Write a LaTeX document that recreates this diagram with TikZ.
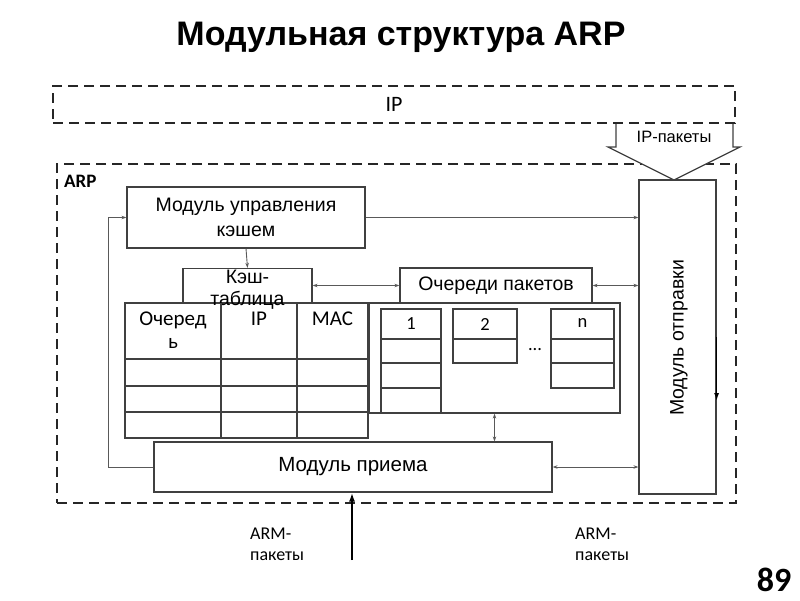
\documentclass[tikz,border=0pt]{standalone}
\usepackage{fontspec}
\setmainfont{Liberation Sans}
\newfontfamily\calfont{Carlito}
\usetikzlibrary{arrows.meta}

\begin{document}
\begin{tikzpicture}[x=1pt,y=-1pt,
  module/.style={draw=black!75,line width=1.2pt,fill=white,align=center,inner sep=0pt,font=\fontsize{19.5}{25}\selectfont},
  layer/.style={draw=black!85,line width=2.2pt,dash pattern=on 10pt off 6pt},
  cell/.style={draw=black!75,line width=1.1pt},
  celltext/.style={font=\calfont\fontsize{21}{23}\selectfont,align=center,inner sep=0pt},
  link/.style={draw=black!65,line width=0.9pt,-{Stealth[length=5pt,width=3.5pt]}},
  dlink/.style={link,{Stealth[length=5pt,width=3.5pt]}-{Stealth[length=5pt,width=3.5pt]}},
  inarrow/.style={draw=black,line width=1.8pt,-{Latex[length=9pt,width=6pt]}},
  armtext/.style={font=\calfont\fontsize{18}{21}\selectfont,align=left,anchor=north west,inner sep=0pt}
]
\useasboundingbox (0,0) rectangle (800,600);

\node[font=\bfseries\fontsize{34}{40}\selectfont,anchor=base] (title) at (401,45) {Модульная структура ARP};

% layers
\node[layer,minimum width=682pt,minimum height=37pt,font=\calfont\fontsize{22}{24}\selectfont] (ip) at (394,104.5) {IP};
\node[layer,minimum width=679pt,minimum height=339pt] (arp) at (396.5,333.5) {};
\node[anchor=west,inner sep=0pt,font=\calfont\bfseries\fontsize{19}{22}\selectfont] (arplbl) at (64,181) {ARP};

% IP packets block arrow
\draw[draw=black!75,line width=1.2pt,fill=white] (616,124) -- (616,147) -- (608,147) -- (674,180) -- (740,147) -- (733,147) -- (733,124);
\node[font=\fontsize{16.5}{18}\selectfont] (iplbl) at (674,137) {IP-пакеты};

% modules
\node[module,minimum width=238pt,minimum height=61pt] (ctrl) at (246,217.5) {Модуль управления\\кэшем};
\node[module,minimum width=129pt,minimum height=34pt] (cache) at (247.5,285.5) {};
\node[module,minimum width=192pt,minimum height=35pt] (qhead) at (496,285.5) {Очереди пакетов};
\node[module,minimum width=243pt,minimum height=135pt] (table) at (246.5,370.5) {};
\node[module,minimum width=251pt,minimum height=110pt] (qarea) at (494.5,358) {};
\node[module,minimum width=398pt,minimum height=50pt,font=\fontsize{20.5}{25}\selectfont] (recv) at (353,467) {Модуль приема};
\node[module,minimum width=77pt,minimum height=314pt] (send) at (677.5,337) {};
\node[rotate=90,font=\fontsize{19.5}{22}\selectfont] (sendlbl) at (679,338) {Модуль отправки};
\node[anchor=north,align=center,inner sep=0pt,font=\fontsize{19.5}{22}\selectfont] (cachelbl) at (247.5,270) {Кэш-\\таблица};

% cache table
\foreach \x in {221,297}
  \draw[cell] (\x,303) -- (\x,438);
\foreach \y in {359,386,412}
  \draw[cell] (125,\y) -- (368,\y);
\node[celltext,anchor=north] (hqueue) at (173,312) {Очеред\\ь};
\node[celltext,anchor=north] (hip) at (259,312) {IP};
\node[celltext,anchor=north] (hmac) at (332.5,312) {MAC};

% packet queues
\foreach \xa/\xb/\yb in {381/441/413,453/517/363,551/614/388} {
  \draw[cell] (\xa,309) rectangle (\xb,\yb);
  \draw[cell] (\xa,339) -- (\xb,339);
}
\draw[cell] (381,363) -- (441,363);
\draw[cell] (381,388) -- (441,388);
\draw[cell] (551,363) -- (614,363);
\node[celltext,font=\calfont\fontsize{18.5}{22}\selectfont] (qone) at (411,324) {1};
\node[celltext,font=\calfont\fontsize{18.5}{22}\selectfont] (qtwo) at (485,324) {2};
\node[celltext,font=\calfont\fontsize{18.5}{22}\selectfont] (qn) at (582.5,323) {n};
\node[celltext,font=\calfont\fontsize{18.5}{22}\selectfont] (qdots) at (535,350) {...};

% connectors
\draw[link] (ctrl.east) -- (ctrl.east -| send.west);
\draw[link] (ctrl.south) -- (cache.north);
\draw[dlink] (qhead.west) -- (cache.east);
\draw[dlink] (qhead.east) -- (qhead.east -| send.west);
\draw[dlink] (qarea.south) -- (qarea.south |- recv.north);
\draw[dlink] (recv.east) -- (recv.east -| send.west);
\draw[link] (recv.west) -- ++(-45,0) |- (ctrl.west);
\draw[inarrow,line width=1.5pt,-{Latex[length=8pt,width=5pt]}] (send.east) -- ++(0,64);

\coordinate (armin) at (352,560);
\draw[inarrow] (armin) -- (armin |- recv.south);
\node[armtext] (armleft) at (250,528) {ARM-\\пакеты};
\node[armtext] (armright) at (575,528) {ARM-\\пакеты};

\node[font=\calfont\bfseries\fontsize{34}{40}\selectfont,anchor=base] (pagenum) at (774,591) {89};
\end{tikzpicture}
\end{document}
